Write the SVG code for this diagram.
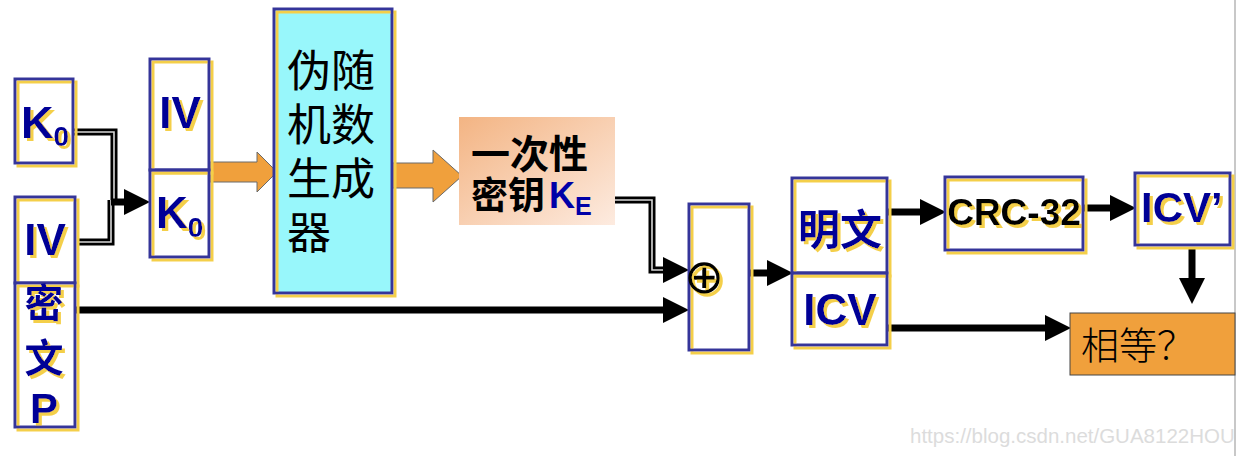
<svg xmlns="http://www.w3.org/2000/svg" width="1238" height="456" viewBox="0 0 1238 456">
<defs>
  <filter id="ys" x="-10%" y="-10%" width="130%" height="130%">
    <feDropShadow dx="3" dy="3" stdDeviation="0.4" flood-color="#f4cf4a" flood-opacity="1"/>
  </filter>
  <linearGradient id="kg" x1="0" y1="0" x2="1" y2="1">
    <stop offset="0" stop-color="#f3b483"/>
    <stop offset="1" stop-color="#fdebe0"/>
  </linearGradient>
  <marker id="ah" viewBox="0 0 26 26" markerWidth="26" markerHeight="26" refX="6" refY="13" orient="auto" markerUnits="userSpaceOnUse">
    <path d="M0,0 L26,13 L0,26 z" fill="#000"/>
  </marker>
</defs>
<style>
  .bg{fill:#fff;}
  .bx{fill:none;stroke:#36369a;stroke-width:3;}
  .nv{fill:#000096;font-family:"Liberation Sans",Arial,"Noto Sans CJK SC",sans-serif;font-weight:bold;}
  .cj{font-family:"Noto Sans CJK SC","Liberation Sans",sans-serif;font-weight:bold;}
  .blk{fill:#000;}
  .ln{fill:none;stroke:#000;stroke-width:7;}
  .dl{fill:none;stroke:#000;stroke-width:7;}
  .dli{fill:none;stroke:#d8d8d8;stroke-width:1.6;}
  .oa{fill:#f0a03c;stroke:#6a6a6a;stroke-width:1;}
</style>
<rect width="1238" height="456" fill="#fff"/>
<line x1="1235" y1="0" x2="1235" y2="456" stroke="#c8c8c8" stroke-width="2"/>

<g id="connectors">
  <path class="dl" d="M74,132 H114 V204"/>
  <path class="dl" d="M77,242 H111 V200"/>
  <path class="dli" d="M74,132 H114 V204"/>
  <path class="dli" d="M77,242 H111 V200"/>
  <path class="ln" d="M111,202 H130" marker-end="url(#ah)"/>
  <polygon class="oa" points="210,162 257,162 257,152 277,172 257,192 257,182 210,182"/>
  <polygon class="oa" points="392,163 433,163 433,150 462,176 433,202 433,188 392,188"/>
  <path class="dl" d="M614,200 H652 V270 H668"/>
  <path class="dli" d="M614,200 H652 V270 H668"/>
  <path class="ln" d="M664,270 H669" marker-end="url(#ah)"/>
  <path class="ln" d="M75,310 H669" marker-end="url(#ah)"/>
  <path class="ln" d="M749,273 H773" marker-end="url(#ah)"/>
  <path class="ln" d="M887,212 H926" marker-end="url(#ah)"/>
  <path class="ln" d="M1083,208 H1116" marker-end="url(#ah)"/>
  <path class="ln" d="M1192,247 V284" marker-end="url(#ah)"/>
  <path class="ln" d="M887,328 H1051" marker-end="url(#ah)"/>
</g>

<g id="k0-left">
  <rect class="bg" x="15" y="79" width="58" height="84"/>
  <g filter="url(#ys)">
    <rect class="bx" x="15" y="79" width="58" height="84"/>
    <text class="nv" x="21" y="138" font-size="45">K<tspan font-size="28" dy="8">0</tspan></text>
  </g>
</g>

<g id="iv-left">
  <rect class="bg" x="15" y="197" width="60" height="86"/>
  <g filter="url(#ys)">
    <rect class="bx" x="15" y="197" width="60" height="86"/>
    <text class="nv" x="45" y="255" font-size="44" text-anchor="middle">IV</text>
  </g>
</g>

<g id="ciphertext">
  <rect class="bg" x="15" y="283" width="60" height="144"/>
  <g filter="url(#ys)">
    <rect class="bx" x="15" y="283" width="60" height="144"/>
    <text class="nv" text-anchor="middle"><tspan class="cj" x="44" y="317" font-size="39">密</tspan><tspan class="cj" x="44" y="372" font-size="39">文</tspan><tspan x="44" y="423" font-size="42">P</tspan></text>
  </g>
</g>

<g id="iv-k0">
  <rect class="bg" x="150" y="59" width="59" height="198"/>
  <g filter="url(#ys)">
    <rect class="bx" x="150" y="59" width="59" height="111"/>
    <rect class="bx" x="150" y="170" width="59" height="87"/>
    <text class="nv" x="180" y="128" font-size="44" text-anchor="middle">IV</text>
    <text class="nv" x="156" y="228" font-size="44">K<tspan font-size="28" dy="9">0</tspan></text>
  </g>
</g>

<g id="prng">
  <rect x="274" y="9" width="118" height="284" fill="#98f7fb"/>
  <g filter="url(#ys)">
    <rect class="bx" x="274" y="9" width="118" height="284"/>
  </g>
  <text class="blk" font-family="Noto Sans CJK SC, sans-serif" font-size="44"><tspan x="287" y="87">伪随</tspan><tspan x="287" y="141">机数</tspan><tspan x="287" y="195">生成</tspan><tspan x="287" y="249">器</tspan></text>
</g>

<g id="keystream">
  <rect x="459" y="117" width="156" height="108" fill="url(#kg)"/>
  <text class="blk cj"><tspan x="471" y="168" font-size="39">一次性</tspan><tspan x="471" y="209" font-size="37">密钥</tspan><tspan x="549" y="208" font-size="36" fill="#0000a8" font-family="Liberation Sans, Arial, sans-serif">K</tspan><tspan font-size="25" dy="7" fill="#0000a8" font-family="Liberation Sans, Arial, sans-serif">E</tspan></text>
</g>

<g id="xor">
  <rect class="bg" x="689" y="204" width="60" height="146"/>
  <g filter="url(#ys)">
    <rect class="bx" x="689" y="204" width="60" height="146"/>
    <text x="704" y="293" font-size="48" fill="#000" font-family="DejaVu Sans, sans-serif" text-anchor="middle">⊕</text>
  </g>
</g>

<g id="plaintext-icv">
  <rect class="bg" x="792" y="178" width="95" height="167"/>
  <g filter="url(#ys)">
    <rect class="bx" x="792" y="178" width="95" height="95"/>
    <rect class="bx" x="792" y="273" width="95" height="72"/>
    <text class="nv cj" x="840" y="245" font-size="42" text-anchor="middle">明文</text>
    <text class="nv" x="840" y="325" font-size="44" text-anchor="middle">ICV</text>
  </g>
</g>

<g id="crc32">
  <rect class="bg" x="945" y="177" width="138" height="73"/>
  <g filter="url(#ys)">
    <rect class="bx" x="945" y="177" width="138" height="73"/>
    <text x="1014" y="225" font-size="37" fill="#000" font-family="Liberation Sans, Arial, sans-serif" font-weight="bold" text-anchor="middle">CRC-32</text>
  </g>
</g>

<g id="icv-prime">
  <rect class="bg" x="1135" y="173" width="95" height="72"/>
  <g filter="url(#ys)">
    <rect class="bx" x="1135" y="173" width="95" height="72"/>
    <text class="nv" x="1141" y="222" font-size="42">ICV’</text>
  </g>
</g>

<g id="equal">
  <rect x="1070" y="313" width="165" height="62" fill="#f0a03c" stroke="#444" stroke-width="1"/>
  <text x="1081" y="359" font-size="38" fill="#000" font-family="Noto Sans CJK SC, sans-serif" font-weight="300">相等？</text>
</g>

<text x="910" y="443" font-size="20.5" fill="#dcdcdc" font-family="Liberation Sans, Arial, sans-serif">https://blog.csdn.net/GUA8122HOU</text>
</svg>
